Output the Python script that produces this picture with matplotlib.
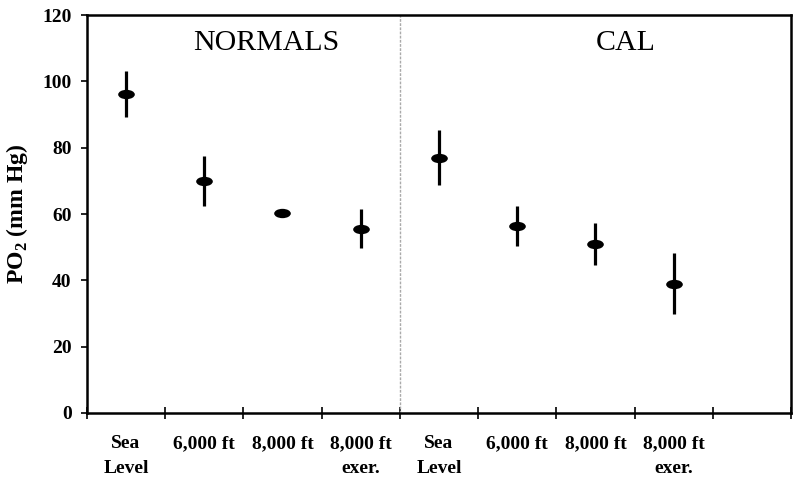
import matplotlib
matplotlib.use("Agg")
import matplotlib.pyplot as plt
from matplotlib.path import Path
import numpy as np

# Kategorier og verdier
kategorier = ["Sea\nLevel", "6,000 ft", "8,000 ft", "8,000 ft\nexer.",
              "Sea\nLevel", "6,000 ft", "8,000 ft", "8,000 ft\nexer."]
normals_po2 = [96.2, 70.0, 60.4, 55.6]
normals_feil = [7.0, 7.6, 0.0, 6.0]
cal_po2 = [77.0, 56.3, 51.0, 39.0]
cal_feil = [8.2, 6.0, 6.3, 9.3]
gruppenavn = ["NORMALS", "CAL"]

plt.rcParams["font.family"] = ["Liberation Serif", "DejaVu Serif"]
plt.rcParams["mathtext.fontset"] = "custom"
plt.rcParams["mathtext.rm"] = "Liberation Serif"
plt.rcParams["mathtext.bf"] = "Liberation Serif:bold"

# Ellipseformet markør
sirkel = Path.unit_circle()
ellipse = Path(sirkel.vertices * np.array([1.0, 0.56]), sirkel.codes)

fig = plt.figure(figsize=(7.97, 4.84), dpi=100)
ax = fig.add_axes([0.109, 0.1467, 0.8835, 0.8223])

x_norm = np.arange(4) + 0.5
x_cal = np.arange(4) + 4.5

for x, y, e in [(x_norm, normals_po2, normals_feil), (x_cal, cal_po2, cal_feil)]:
    ax.errorbar(x, y, yerr=e, fmt="none", ecolor="black", elinewidth=2.3, capsize=0)
    ax.plot(x, y, linestyle="none", marker=ellipse, markersize=12,
            color="black", markeredgewidth=0)

ax.axvline(4, color="#aaaaaa", linewidth=1.0, linestyle=(0, (2, 1)))

ax.text(2.29, 111.5, gruppenavn[0], ha="center", va="center", fontsize=21.5)
ax.text(6.89, 111.5, gruppenavn[1], ha="center", va="center", fontsize=21.5)

ax.set_xlim(0, 9)
ax.set_ylim(0, 120)
ax.set_yticks(range(0, 121, 20))
ax.set_xticks(range(0, 10))
ax.set_xticklabels([])
ax.set_xticks(np.arange(8) + 0.5, minor=True)
ax.set_xticklabels(kategorier, minor=True, fontweight="bold", fontsize=14,
                   linespacing=1.6)
ax.tick_params(axis="x", which="major", direction="inout", length=9, width=1.2)
ax.tick_params(axis="x", which="minor", length=0, pad=16)
ax.tick_params(axis="y", direction="out", length=4, width=1.2, pad=7)
for lab in ax.get_yticklabels():
    lab.set_fontweight("bold")
    lab.set_fontsize(14)

ax.set_ylabel(r"PO$_\mathbf{2}$ (mm Hg)", fontweight="bold", fontsize=17, labelpad=9)

for s in ax.spines.values():
    s.set_linewidth(1.8)

fig.savefig("out.png", dpi=100)
